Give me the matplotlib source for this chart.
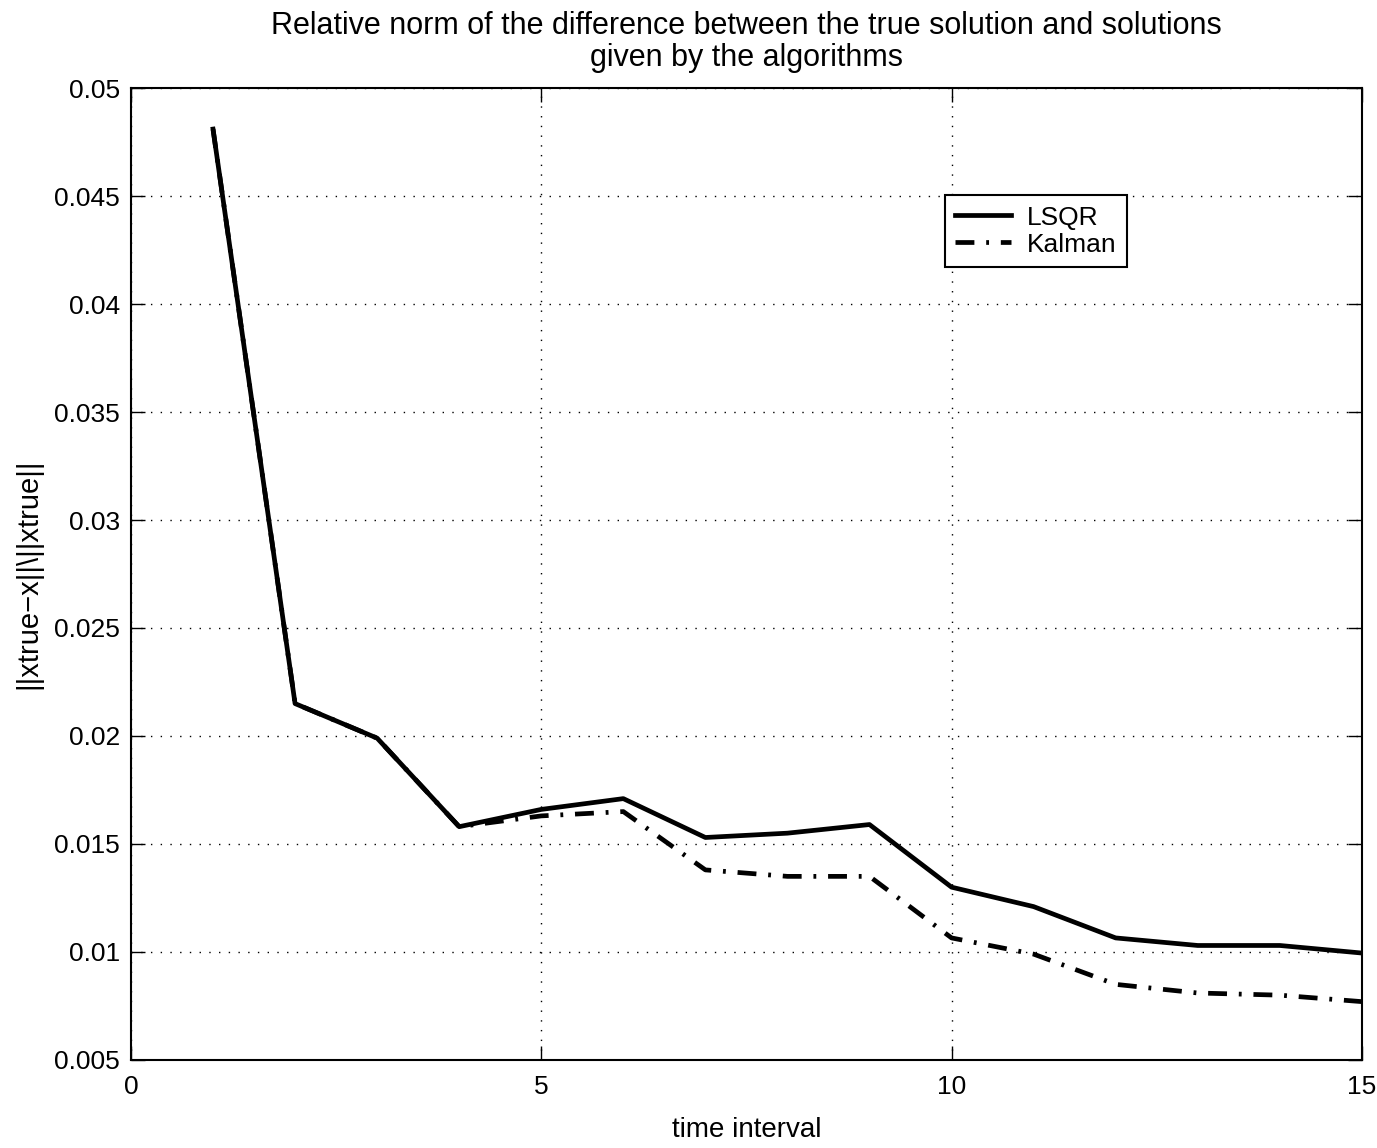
import numpy as np
import matplotlib.pyplot as plt
from matplotlib import font_manager
from matplotlib.ticker import FixedLocator

plt.rcParams['font.family'] = ['Liberation Sans', 'DejaVu Sans']

# time interval
t = [1, 2, 3, 4, 5, 6, 7, 8, 9, 10, 11, 12, 13, 14, 15]
# relative error
lsqr = [0.0481, 0.0215, 0.0199, 0.0158, 0.0166, 0.0171, 0.0153, 0.0155, 0.0159,
        0.0130, 0.0121, 0.01065, 0.0103, 0.0103, 0.00995]
kalman = [0.0481, 0.0215, 0.0199, 0.0158, 0.0163, 0.0165, 0.0138, 0.0135, 0.0135,
          0.01065, 0.0099, 0.0085, 0.0081, 0.0080, 0.0077]
yticks = [0.005, 0.01, 0.015, 0.02, 0.025, 0.03, 0.035, 0.04, 0.045, 0.05]
ylabels = ['0.005', '0.01', '0.015', '0.02', '0.025', '0.03', '0.035', '0.04', '0.045', '0.05']

names = {f.name for f in font_manager.fontManager.ttflist}
title_font = ['Liberation Sans Narrow'] if 'Liberation Sans Narrow' in names else ['Liberation Sans']

fig = plt.figure(figsize=(13.77, 11.48), dpi=100)
ax = fig.add_axes([0.0951, 0.0767, 0.8939, 0.8466])

ax.plot(t, lsqr, color='black', lw=3.4, label='LSQR')
ax.plot(t, kalman, color='black', lw=3.4, linestyle=(0, (4, 2.5, 0.6, 2.5)), label='Kalman')

ax.set_xlim(0, 15)
ax.set_ylim(0.005, 0.05)
ax.set_xticks([0, 5, 10, 15])
ax.yaxis.set_major_locator(FixedLocator(yticks))
ax.set_yticklabels(ylabels)
ax.tick_params(direction='in', length=10, width=1, labelsize=19, top=True, right=True)
ax.tick_params(axis='x', pad=11)
ax.tick_params(axis='y', pad=8)
ax.grid(True, color='black', linestyle=(0, (1, 6)), linewidth=1)
for s in ax.spines.values():
    s.set_linewidth(1.5)

ax.set_xlabel('time interval', fontsize=20, labelpad=13)
ax.set_ylabel('||xtrue\u2212x||\\||xtrue||', fontsize=21, labelpad=8)
ax.set_title('Relative norm of the difference between the true solution and solutions\ngiven by the algorithms',
             fontsize=22, pad=16, family=title_font, linespacing=1.1)

leg = ax.legend(loc='upper left', bbox_to_anchor=(0.661, 0.890), fontsize=19,
                fancybox=False, edgecolor='black', framealpha=1, handlelength=2.1,
                borderpad=0.4, labelspacing=0.12, handletextpad=0.6, borderaxespad=0)
leg.get_frame().set_linewidth(1.5)

fig.savefig('out.png', dpi=100)
